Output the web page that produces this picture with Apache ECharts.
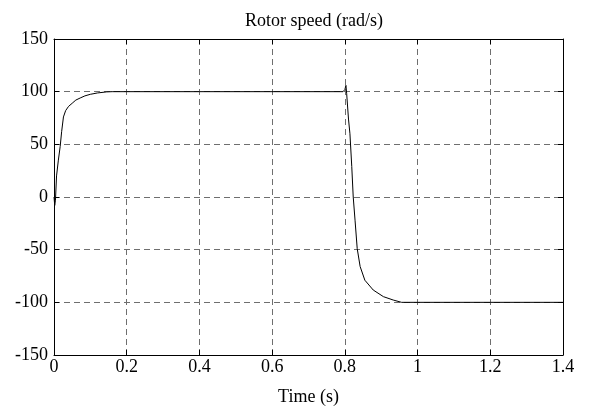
<!DOCTYPE html>
<html><head><meta charset="utf-8">
<script src="https://cdn.jsdelivr.net/npm/echarts@6/dist/echarts.min.js"></script>
<style>html,body{margin:0;padding:0;background:#fff}#c{width:591px;height:412px}</style>
</head><body><div id="c"></div>
<script>
const titleText = "Rotor speed (rad/s)";
const xLabel = "Time (s)";
const xTicks = [0, 0.2, 0.4, 0.6, 0.8, 1, 1.2, 1.4];
const yTicks = [-150, -100, -50, 0, 50, 100, 150];
const timeS = [0, 0.002, 0.004, 0.007, 0.012, 0.017, 0.021, 0.026, 0.032, 0.04, 0.05, 0.06, 0.072, 0.085, 0.1, 0.12, 0.145, 0.16, 0.4, 0.795, 0.8, 0.803, 0.805, 0.81, 0.814, 0.819, 0.823, 0.828, 0.834, 0.842, 0.855, 0.878, 0.906, 0.933, 0.956, 1.2, 1.4];
const speed = [0, -8, -3, 20, 35, 48, 62, 76, 82, 86, 89, 92, 94, 96, 97.5, 98.8, 99.8, 100, 100, 100, 102, 106, 98, 74, 60, 29, 0, -22, -49, -66, -79, -88.3, -94.6, -97.8, -100, -100, -100];

const data = timeS.map((t, i) => [t, speed[i]]);
const font = "'Liberation Serif', 'Times New Roman', serif";
const gridDash = {color: '#6e6e6e', type: [6, 4], width: 1};
const chart = echarts.init(document.getElementById('c'));
chart.setOption({
  animation: false,
  backgroundColor: '#fff',
  title: {text: titleText, left: 309, top: 7, textAlign: 'center',
    textStyle: {fontFamily: font, fontSize: 18, fontWeight: 'normal', color: '#000'}},
  grid: {left: 54, right: 28, top: 39, bottom: 57, containLabel: false},
  xAxis: [{
    type: 'value', min: xTicks[0], max: xTicks[xTicks.length - 1], interval: 0.2,
    name: xLabel, nameLocation: 'middle', nameGap: 33,
    nameTextStyle: {fontFamily: font, fontSize: 18, color: '#000'},
    axisLine: {show: true, onZero: false, lineStyle: {color: '#000', width: 1}},
    axisTick: {show: true, inside: true, length: 5, lineStyle: {color: '#000'}},
    axisLabel: {fontFamily: font, fontSize: 18, color: '#000', margin: 3,
      formatter: v => String(Math.round(v * 10) / 10)},
    splitLine: {show: true, lineStyle: gridDash}
  }, {
    type: 'value', position: 'top', min: 0, max: 1.4, interval: 0.2,
    axisLine: {show: true, onZero: false, lineStyle: {color: '#000', width: 1}},
    axisTick: {show: true, inside: true, length: 5, lineStyle: {color: '#000'}},
    axisLabel: {show: false}, splitLine: {show: false}
  }],
  yAxis: [{
    type: 'value', min: yTicks[0], max: yTicks[yTicks.length - 1], interval: 50,
    axisLine: {show: true, onZero: false, lineStyle: {color: '#000', width: 1}},
    axisTick: {show: true, inside: true, length: 5, lineStyle: {color: '#000'}},
    axisLabel: {fontFamily: font, fontSize: 18, color: '#000', margin: 6},
    splitLine: {show: true, lineStyle: gridDash}
  }, {
    type: 'value', position: 'right', min: -150, max: 150, interval: 50,
    axisLine: {show: true, onZero: false, lineStyle: {color: '#000', width: 1}},
    axisTick: {show: true, inside: true, length: 5, lineStyle: {color: '#000'}},
    axisLabel: {show: false}, splitLine: {show: false}
  }],
  series: [{
    type: 'line', data: data, showSymbol: false, symbol: 'none',
    lineStyle: {color: '#000', width: 1}, z: 5
  }]
});
</script></body></html>
